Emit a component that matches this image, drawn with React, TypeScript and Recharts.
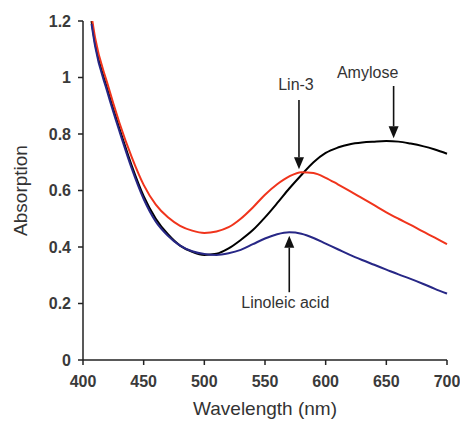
import { LineChart, Line, XAxis, YAxis, ReferenceLine, Label } from "recharts";

const wavelengths = [
  407, 410, 420, 430, 440, 450, 460, 470, 480, 490, 500, 510, 520, 530, 540, 550,
  560, 570, 580, 590, 600, 610, 620, 630, 640, 650, 660, 670, 680, 690, 700,
];

const amylose = [
  1.2, 1.12, 0.96, 0.82, 0.69, 0.58, 0.5, 0.445, 0.405, 0.383, 0.372, 0.376, 0.395,
  0.425, 0.46, 0.505, 0.555, 0.607, 0.655, 0.7, 0.733, 0.752, 0.764, 0.77, 0.773,
  0.775, 0.773, 0.766, 0.757, 0.745, 0.73,
];

const lin3 = [
  1.22, 1.14, 0.98, 0.84, 0.72, 0.62, 0.55, 0.505, 0.475, 0.458, 0.45, 0.455, 0.47,
  0.5, 0.54, 0.585, 0.622, 0.65, 0.665, 0.662, 0.645, 0.622, 0.598, 0.573, 0.548,
  0.523, 0.5, 0.478, 0.455, 0.433, 0.41,
];

const linoleic = [
  1.19, 1.11, 0.95, 0.81, 0.68, 0.57, 0.49, 0.44, 0.405, 0.385, 0.375, 0.372, 0.378,
  0.39, 0.41, 0.43, 0.445, 0.452, 0.447, 0.432, 0.412, 0.392, 0.372, 0.354, 0.337,
  0.32, 0.303, 0.287, 0.27, 0.252, 0.235,
];

const xTicks = [400, 450, 500, 550, 600, 650, 700];
const yTicks = [0, 0.2, 0.4, 0.6, 0.8, 1, 1.2];

// arrows: label, wavelength, tail value, head value
const arrows = [
  { label: "Lin-3", x: 578, from: 0.92, to: 0.675, dx: -3, dy: -14 },
  { label: "Amylose", x: 656, from: 0.97, to: 0.785, dx: -26, dy: -12 },
  { label: "Linoleic acid", x: 570, from: 0.24, to: 0.44, dx: -4, dy: 12 },
];

const data = wavelengths.map((wl, i) => ({
  wl,
  amylose: amylose[i],
  lin3: lin3[i],
  linoleic: linoleic[i],
}));

const font = "Arial, 'Liberation Sans', sans-serif";
const tickStyle = { fill: "#3a3a3a", fontSize: 16, fontFamily: font, fontWeight: 700 };

function arrowShape(label: string, dx: number, dy: number) {
  return (props: any) => {
    const { x1, y1, x2, y2 } = props;
    const dir = y2 > y1 ? 1 : -1;
    const headLen = 12;
    const headW = 5;
    return (
      <g>
        <line x1={x1} y1={y1} x2={x2} y2={y2 - dir * headLen} stroke="#111" strokeWidth={1.6} />
        <polygon
          points={`${x2},${y2} ${x2 - headW},${y2 - dir * headLen} ${x2 + headW},${y2 - dir * headLen}`}
          fill="#111"
        />
        <text
          x={x1 + dx}
          y={y1 + dy}
          textAnchor="middle"
          dominantBaseline="middle"
          fontSize={16}
          fontFamily={font}
          fill="#333"
        >
          {label}
        </text>
      </g>
    );
  };
}

export default function App() {
  return (
    <div style={{ background: "#fff", width: 460, height: 418 }}>
      <LineChart
        width={460}
        height={418}
        data={data}
        margin={{ top: 13, right: 21, left: 0, bottom: 0 }}
      >
        <XAxis
          type="number"
          dataKey="wl"
          domain={[400, 700]}
          ticks={xTicks}
          height={66}
          tickSize={5}
          tickMargin={11}
          stroke="#222"
          strokeWidth={1.5}
          tick={tickStyle}
        >
          <Label
            content={({ viewBox }: any) => (
              <text
                x={viewBox.x + viewBox.width / 2}
                y={viewBox.y + 50}
                textAnchor="middle"
                dominantBaseline="middle"
                fontSize={19}
                fontFamily={font}
                fill="#333"
              >
                Wavelength (nm)
              </text>
            )}
          />
        </XAxis>
        <YAxis
          type="number"
          domain={[0, 1.2]}
          ticks={yTicks}
          allowDataOverflow
          width={75}
          tickSize={5}
          tickMargin={7}
          stroke="#222"
          strokeWidth={1.5}
          tick={tickStyle}
        >
          <Label
            content={({ viewBox }: any) => {
              const cx = 14;
              const cy = viewBox.y + viewBox.height / 2;
              return (
                <text
                  x={cx}
                  y={cy}
                  transform={`rotate(-90, ${cx}, ${cy})`}
                  textAnchor="middle"
                  dominantBaseline="middle"
                  fontSize={19}
                  fontFamily={font}
                  fill="#333"
                >
                  Absorption
                </text>
              );
            }}
          />
        </YAxis>
        <Line
          type="monotone"
          dataKey="amylose"
          stroke="#000000"
          strokeWidth={2}
          dot={false}
          isAnimationActive={false}
        />
        <Line
          type="monotone"
          dataKey="lin3"
          stroke="#f0341c"
          strokeWidth={2}
          dot={false}
          isAnimationActive={false}
        />
        <Line
          type="monotone"
          dataKey="linoleic"
          stroke="#272786"
          strokeWidth={2}
          dot={false}
          isAnimationActive={false}
        />
        {arrows.map((a) => (
          <ReferenceLine
            key={a.label}
            segment={[
              { x: a.x, y: a.from },
              { x: a.x, y: a.to },
            ]}
            ifOverflow="visible"
            shape={arrowShape(a.label, a.dx, a.dy)}
          />
        ))}
      </LineChart>
    </div>
  );
}
